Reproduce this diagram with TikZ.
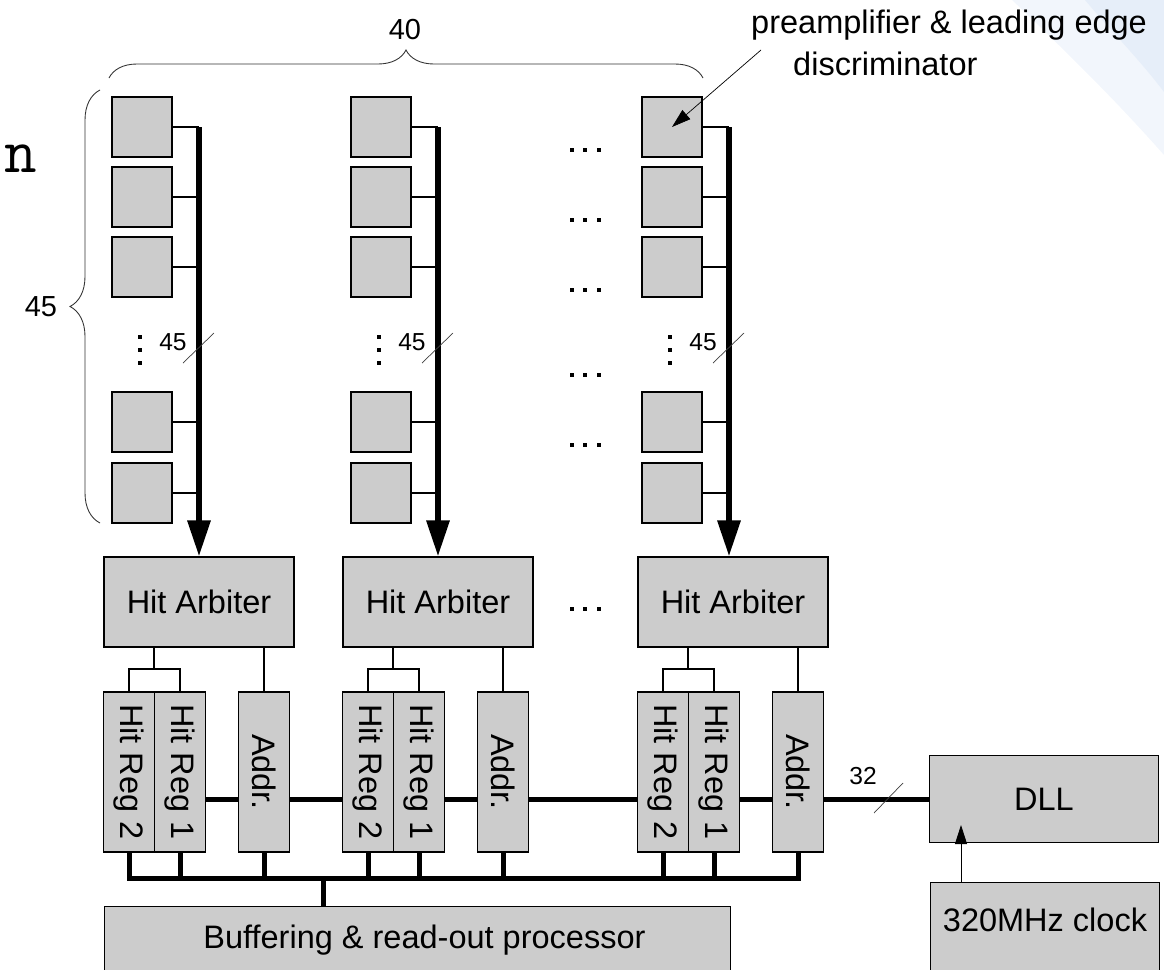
\documentclass[tikz,border=0pt]{standalone}
\usepackage{fontspec}
\setmainfont{Liberation Sans}
\usepackage{tikz}
\usetikzlibrary{arrows.meta, positioning, decorations.pathreplacing}
\definecolor{cellgray}{RGB}{204,204,204}
\definecolor{slideblue}{RGB}{222,233,247}
\tikzstyle{bus} = [line width=0.1cm]
\tikzstyle{wire} = [line width=0.6pt]

\begin{document}
\begin{tikzpicture}[x=0.02cm, y=-0.02cm,
    cell/.style={rectangle, draw=black, fill=cellgray, line width=0.6pt, minimum width=1.2cm, minimum height=1.2cm, inner sep=0pt},
    caption/.style={font=\fontsize{18.5}{22}\selectfont},
    block/.style={rectangle, draw=black, fill=cellgray, line width=0.6pt, inner sep=0pt, caption},
    arbiter/.style={block, minimum width=3.8cm, minimum height=1.8cm},
    reg/.style={block, minimum width=1.02cm, minimum height=3.2cm},
    bracelabel/.style={font=\fontsize{16.5}{20}\selectfont},
    buslabel/.style={font=\fontsize{14}{17}\selectfont},
    tickmark/.style={line width=0.4pt, black!75},
    pointer/.style={line width=0.5pt, -{Triangle[width=0.24cm,length=0.38cm]}}
]

\useasboundingbox (0,0) rectangle (1164,970);
\clip (0,0) rectangle (1164,970);

% Slide background corner
\fill[slideblue!40] (1012,0) .. controls (1070,55) and (1120,105) .. (1164,155) -- (1164,0) -- cycle;
\fill[slideblue!75] (1085,0) .. controls (1110,30) and (1140,60) .. (1164,92) -- (1164,0) -- cycle;
\node[anchor=base] (slideletter) at (21,172) {\ttfamily\fontsize{36}{38}\selectfont n};

\coordinate (midbus) at (0,799);
\coordinate (botbus) at (0,878);

% Draw the three pixel columns
\foreach \c/\bx/\ax in {1/199/199, 2/438/438, 3/729/733} {
  \foreach \r/\ry in {1/127, 2/197, 3/267, 4/422, 5/493} {
    \node[cell] (cell-\c-\r) at (\bx-57,\ry) {};
  }
  \coordinate (bustop-\c) at (\bx,127);
  \node[arbiter] (arb-\c) at (\ax,602) {Hit Arbiter};
  \node[reg] (rega-\c) at (\ax-70,772) {\rotatebox{-90}{Hit Reg 2}};
  \node[reg] (regb-\c) at (\ax-19,772) {\rotatebox{-90}{Hit Reg 1}};
  \node[reg] (addr-\c) at (\ax+65,772) {\rotatebox{-90}{Addr.}};

  % Column bus
  \foreach \r in {1,...,5} {
    \draw[wire] (cell-\c-\r.east) -- (cell-\c-\r.east -| bustop-\c);
  }
  \draw[line width=0.12cm, -{Triangle[width=0.44cm,length=0.72cm]}] (bustop-\c) -- (bustop-\c |- arb-\c.north);
  \foreach \dy in {337,350,363} {
    \fill (\bx-61,\dy-2) rectangle ++(4,4);
  }
  \node[buslabel] (width-\c) at (\bx-26,342) {45};
  \draw[tickmark] (\bx-16,363) -- (\bx+15,333);

  % Arbiter to registers
  \coordinate (fork-\c) at (\ax-45,669);
  \draw[wire] (arb-\c.south -| fork-\c) -- (fork-\c);
  \draw[wire] (rega-\c.north) |- (fork-\c) -| (regb-\c.north);
  \draw[wire] (arb-\c.south -| addr-\c) -- (addr-\c.north);
  \draw[bus] (regb-\c.east |- midbus) -- (addr-\c.west |- midbus);

  % Registers to read-out bus
  \foreach \n in {rega,regb,addr} {
    \draw[bus] (\n-\c.south) -- (\n-\c.south |- botbus);
  }
}

% Dots between columns
\foreach \dy in {150,220,290,375,445,609} {
  \foreach \dx in {572,585,599} {
    \fill (\dx-2,\dy-2) rectangle ++(4,4);
  }
}

% DLL and clock
\node[block, minimum width=4.58cm, minimum height=1.74cm] (dll) at (1044,799) {DLL};
\node[block, anchor=north west, minimum width=4.58cm, minimum height=2cm] (clk) at (930,882) {};
\node[caption] (clktext) at ([yshift=-0.76cm]clk.north) {320MHz clock};
\coordinate (clkin) at (961,825);
\draw[pointer] (clkin |- clk.north) -- (clkin);

% Data bus
\draw[bus] (addr-1.east |- midbus) -- (rega-2.west |- midbus);
\draw[bus] (addr-2.east |- midbus) -- (rega-3.west |- midbus);
\draw[bus] (addr-3.east |- midbus) -- (dll.west);
\node[buslabel] (width-dll) at (863,776) {32};
\draw[tickmark] (874,813) -- (903,783);

% Read-out processor
\node[block, anchor=north west, minimum width=12.52cm, minimum height=1.8cm] (buf) at (104,906) {};
\node[caption] (buftext) at ([xshift=0.14cm, yshift=-0.68cm]buf.north) {Buffering \& read-out processor};
\draw[bus, line cap=rect] (rega-1.south |- botbus) -- (addr-3.south |- botbus);
\coordinate (tap) at (323,878);
\draw[bus] (tap) -- (tap |- buf.north);

% Braces
\draw[decorate, decoration={brace, amplitude=0.56cm}, line width=0.5pt, black!80] (109,78) -- (703,78);
\node[bracelabel] (count-cols) at (405,30) {40};
\draw[decorate, decoration={brace, amplitude=0.6cm}, line width=0.5pt, black!80] (100,523) -- (100,90);
\node[bracelabel] (count-rows) at (41,307) {45};

% Preamplifier note
\node[caption, anchor=base west] (note1) at (745,33) {preamplifier \& leading edge};
\node[caption, anchor=base west] (note2) at (787,75) {discriminator};
\coordinate (notefrom) at (761,50);
\draw[pointer, line width=0.4pt] (notefrom) -- (cell-3-1.center);

\end{tikzpicture}
\end{document}
